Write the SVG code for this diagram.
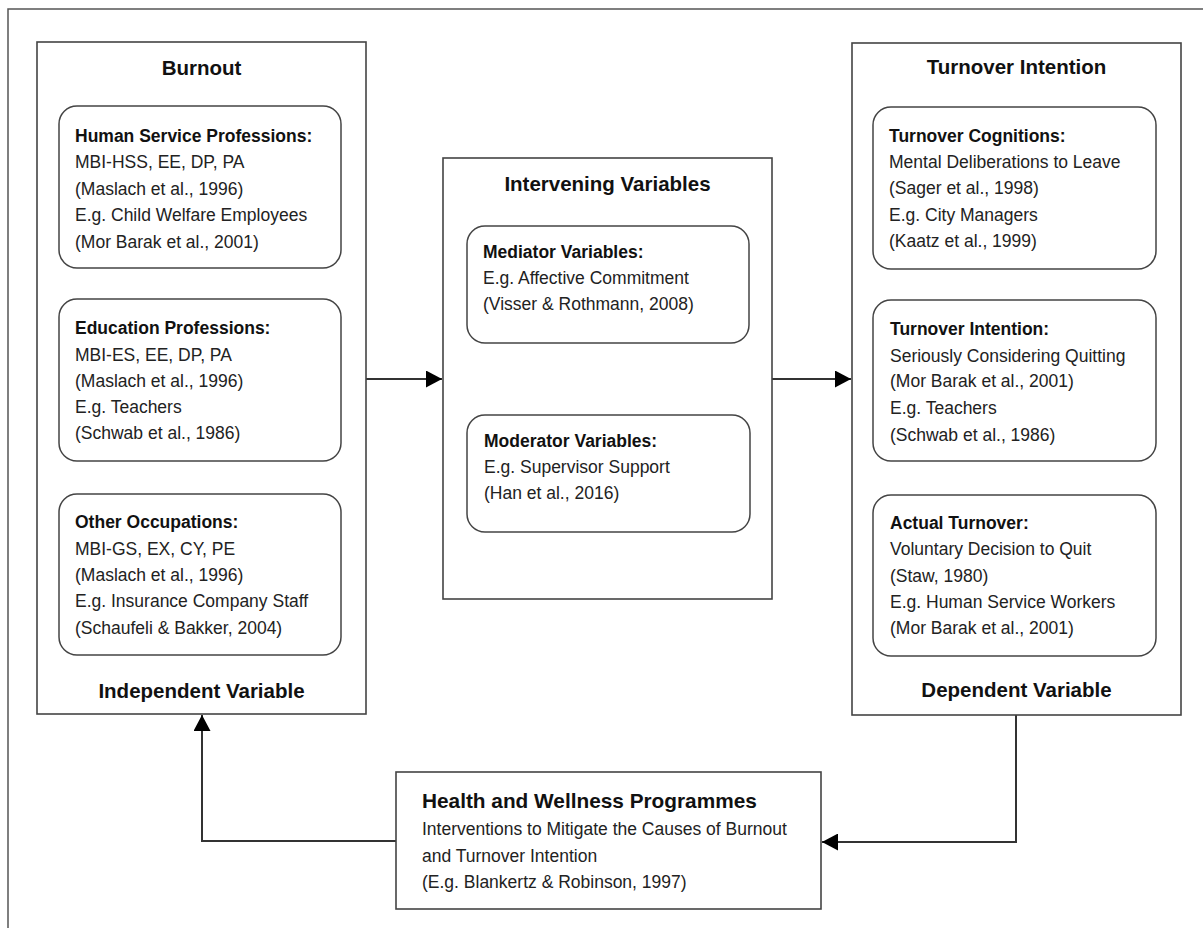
<svg xmlns="http://www.w3.org/2000/svg" width="1203" height="928" viewBox="0 0 1203 928">
<style>
.frame{fill:#fff;stroke:#555;stroke-width:1.5}
.box{fill:#fff;stroke:#444;stroke-width:1.6}
.rbox{fill:#fff;stroke:#444;stroke-width:1.5}
.title{font-family:"Liberation Sans",Arial,sans-serif;font-weight:bold;font-size:20.5px;fill:#111;text-anchor:middle}
.hd{font-family:"Liberation Sans",Arial,sans-serif;font-weight:bold;font-size:17.5px;fill:#111}
.tx{font-family:"Liberation Sans",Arial,sans-serif;font-size:17.5px;fill:#222}
.conn{fill:none;stroke:#333;stroke-width:2}
</style>
<defs>
<marker id="arr" markerUnits="userSpaceOnUse" markerWidth="17" markerHeight="17" refX="16" refY="8.5" orient="auto">
<path d="M0,0 L16,8.5 L0,17 z" fill="#000"/>
</marker>
</defs>
<rect class="frame" x="8" y="9" width="1210" height="940"/>

<g id="connectors">
<line class="conn" x1="366" y1="379" x2="442" y2="379" marker-end="url(#arr)"/>
<line class="conn" x1="772" y1="379" x2="851" y2="379" marker-end="url(#arr)"/>
<polyline class="conn" points="1016,715 1016,842 822,842" marker-end="url(#arr)"/>
<polyline class="conn" points="396,841 202,841 202,715" marker-end="url(#arr)"/>
</g>

<g id="burnout">
<rect class="box" x="37" y="42" width="329" height="672"/>
<text class="title" x="201.5" y="75">Burnout</text>
<text class="title" x="201.5" y="698">Independent Variable</text>
</g>
<g id="human-service">
<rect class="rbox" x="59" y="106" width="282" height="162" rx="18"/>
<text class="hd" x="75" y="142">Human Service Professions:</text>
<text class="tx" x="75" y="168">MBI-HSS, EE, DP, PA</text>
<text class="tx" x="75" y="195">(Maslach et al., 1996)</text>
<text class="tx" x="75" y="221">E.g. Child Welfare Employees</text>
<text class="tx" x="75" y="248">(Mor Barak et al., 2001)</text>
</g>
<g id="education">
<rect class="rbox" x="59" y="299" width="282" height="162" rx="18"/>
<text class="hd" x="75" y="334">Education Professions:</text>
<text class="tx" x="75" y="361">MBI-ES, EE, DP, PA</text>
<text class="tx" x="75" y="387">(Maslach et al., 1996)</text>
<text class="tx" x="75" y="413">E.g. Teachers</text>
<text class="tx" x="75" y="439">(Schwab et al., 1986)</text>
</g>
<g id="other">
<rect class="rbox" x="59" y="494" width="282" height="161" rx="18"/>
<text class="hd" x="75" y="528">Other Occupations:</text>
<text class="tx" x="75" y="555">MBI-GS, EX, CY, PE</text>
<text class="tx" x="75" y="581">(Maslach et al., 1996)</text>
<text class="tx" x="75" y="607">E.g. Insurance Company Staff</text>
<text class="tx" x="75" y="634">(Schaufeli &amp; Bakker, 2004)</text>
</g>

<g id="intervening">
<rect class="box" x="443" y="158" width="329" height="441"/>
<text class="title" x="607.5" y="191">Intervening Variables</text>
</g>
<g id="mediator">
<rect class="rbox" x="467" y="226" width="282" height="117" rx="18"/>
<text class="hd" x="483" y="258">Mediator Variables:</text>
<text class="tx" x="483" y="284">E.g. Affective Commitment</text>
<text class="tx" x="483" y="310">(Visser &amp; Rothmann, 2008)</text>
</g>
<g id="moderator">
<rect class="rbox" x="467" y="415" width="283" height="117" rx="18"/>
<text class="hd" x="484" y="447">Moderator Variables:</text>
<text class="tx" x="484" y="473">E.g. Supervisor Support</text>
<text class="tx" x="484" y="499">(Han et al., 2016)</text>
</g>

<g id="turnover">
<rect class="box" x="852" y="43" width="329" height="672"/>
<text class="title" x="1016.5" y="74">Turnover Intention</text>
<text class="title" x="1016.5" y="697">Dependent Variable</text>
</g>
<g id="cognitions">
<rect class="rbox" x="873" y="107" width="283" height="162" rx="18"/>
<text class="hd" x="889" y="142">Turnover Cognitions:</text>
<text class="tx" x="889" y="168">Mental Deliberations to Leave</text>
<text class="tx" x="889" y="194">(Sager et al., 1998)</text>
<text class="tx" x="889" y="221">E.g. City Managers</text>
<text class="tx" x="889" y="247">(Kaatz et al., 1999)</text>
</g>
<g id="intention">
<rect class="rbox" x="873" y="300" width="283" height="161" rx="18"/>
<text class="hd" x="890" y="335">Turnover Intention:</text>
<text class="tx" x="890" y="362">Seriously Considering Quitting</text>
<text class="tx" x="890" y="387">(Mor Barak et al., 2001)</text>
<text class="tx" x="890" y="414">E.g. Teachers</text>
<text class="tx" x="890" y="441">(Schwab et al., 1986)</text>
</g>
<g id="actual">
<rect class="rbox" x="873" y="495" width="283" height="161" rx="18"/>
<text class="hd" x="890" y="529">Actual Turnover:</text>
<text class="tx" x="890" y="555">Voluntary Decision to Quit</text>
<text class="tx" x="890" y="582">(Staw, 1980)</text>
<text class="tx" x="890" y="608">E.g. Human Service Workers</text>
<text class="tx" x="890" y="634">(Mor Barak et al., 2001)</text>
</g>

<g id="health">
<rect class="box" x="396" y="772" width="425" height="137"/>
<text class="hd" x="422" y="808" style="font-size:20.8px">Health and Wellness Programmes</text>
<text class="tx" x="422" y="835">Interventions to Mitigate the Causes of Burnout</text>
<text class="tx" x="422" y="862">and Turnover Intention</text>
<text class="tx" x="422" y="888">(E.g. Blankertz &amp; Robinson, 1997)</text>
</g>
</svg>
